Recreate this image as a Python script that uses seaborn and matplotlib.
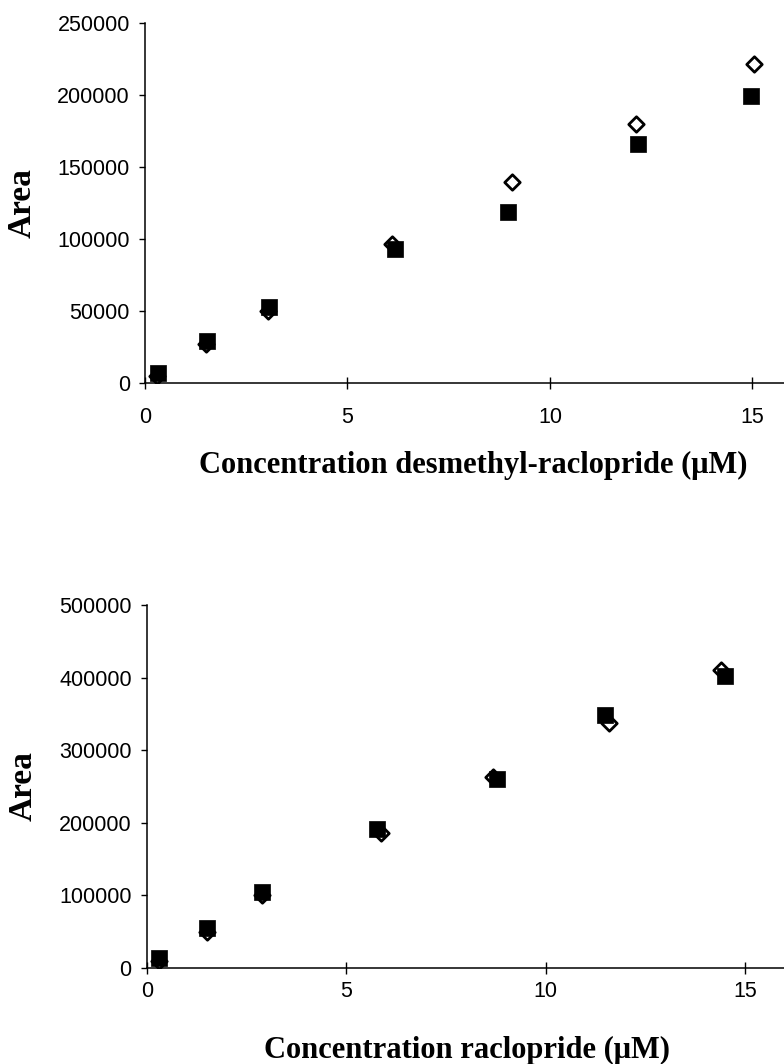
import numpy as np
import pandas as pd
import matplotlib
matplotlib.use("Agg")
import matplotlib.pyplot as plt
import seaborn as sns

# ---- data ----
desm_conc_sq = [0.32, 1.53, 3.06, 6.17, 8.96, 12.17, 14.96]
desm_area_sq = [7000, 29000, 53000, 93500, 119000, 166000, 199500]
desm_conc_di = [0.30, 1.50, 3.04, 6.10, 9.06, 12.12, 15.04]
desm_area_di = [5000, 27000, 50000, 97000, 139600, 180000, 222000]

raclo_conc_sq = [0.30, 1.50, 2.88, 5.76, 8.77, 11.48, 14.50]
raclo_area_sq = [13800, 55000, 105000, 191500, 260000, 348000, 402000]
raclo_conc_di = [0.30, 1.50, 2.88, 5.86, 8.67, 11.58, 14.40]
raclo_area_di = [9000, 50000, 100000, 186000, 263000, 338000, 410000]

top_yticks = [0, 50000, 100000, 150000, 200000, 250000]
bot_yticks = [0, 100000, 200000, 300000, 400000, 500000]
xticks = [0, 5, 10, 15]

top_xlabel = "Concentration desmethyl-raclopride (\u03bcM)"
bot_xlabel = "Concentration raclopride (\u03bcM)"
ylabel = "Area"

sns.set_style("ticks")
plt.rcParams["font.family"] = ["Liberation Sans", "DejaVu Sans"]
plt.rcParams["text.color"] = "black"
plt.rcParams["axes.labelcolor"] = "black"
plt.rcParams["xtick.color"] = "black"
plt.rcParams["ytick.color"] = "black"

fig = plt.figure(figsize=(7.84, 10.64), dpi=100)
ax1 = fig.add_axes([0.185, 0.640, 0.815, 0.338])
ax2 = fig.add_axes([0.1875, 0.0902, 0.8125, 0.3412])

def panel(ax, cx_di, ay_di, cx_sq, ay_sq, xmax, ymax, yticks, xlabel,
          xlab_x, xlab_y, ylab_x, xpad):
    df_di = pd.DataFrame({"conc": cx_di, "area": ay_di})
    df_sq = pd.DataFrame({"conc": cx_sq, "area": ay_sq})
    sns.scatterplot(data=df_di, x="conc", y="area", ax=ax, marker="D", s=62,
                    facecolor="white", edgecolor="black", linewidth=2.0, zorder=3)
    sns.scatterplot(data=df_sq, x="conc", y="area", ax=ax, marker="s", s=120,
                    color="black", edgecolor="black", linewidth=0.5, zorder=4)
    ax.set_xlim(0, xmax)
    ax.set_ylim(0, ymax)
    ax.set_xticks(xticks)
    ax.set_yticks(yticks)
    ax.set_yticklabels([str(v) for v in yticks])
    ax.set_xticklabels([str(v) for v in xticks])
    for side in ["top", "right"]:
        ax.spines[side].set_visible(False)
    for side in ["left", "bottom"]:
        ax.spines[side].set_linewidth(1.1)
        ax.spines[side].set_color("black")
    ax.tick_params(axis="y", direction="out", length=4, width=1.0, pad=7,
                   labelsize=15.5, colors="black")
    ax.tick_params(axis="x", direction="inout", length=8, width=1.0, pad=xpad,
                   labelsize=15.5, colors="black")
    ax.set_xlabel(xlabel, fontsize=22, fontweight="bold", color="black",
                  family=["Liberation Serif", "DejaVu Serif"])
    ax.set_ylabel(ylabel, fontsize=24, fontweight="bold", color="black",
                  family=["Liberation Serif", "DejaVu Serif"])
    ax.xaxis.set_label_coords(xlab_x, xlab_y)
    ax.xaxis.label.set_va("center")
    ax.yaxis.set_label_coords(ylab_x, 0.5)
    ax.yaxis.label.set_va("center")
    ax.patch.set_alpha(0)

panel(ax1, desm_conc_di, desm_area_di, desm_conc_sq, desm_area_sq,
      15.78, 250000, top_yticks, top_xlabel, 0.513, -0.230, -0.192, 13)
panel(ax2, raclo_conc_di, raclo_area_di, raclo_conc_sq, raclo_area_sq,
      15.98, 500000, bot_yticks, bot_xlabel, 0.502, -0.228, -0.195, 5)

fig.savefig("out.png", dpi=100, facecolor="white")
